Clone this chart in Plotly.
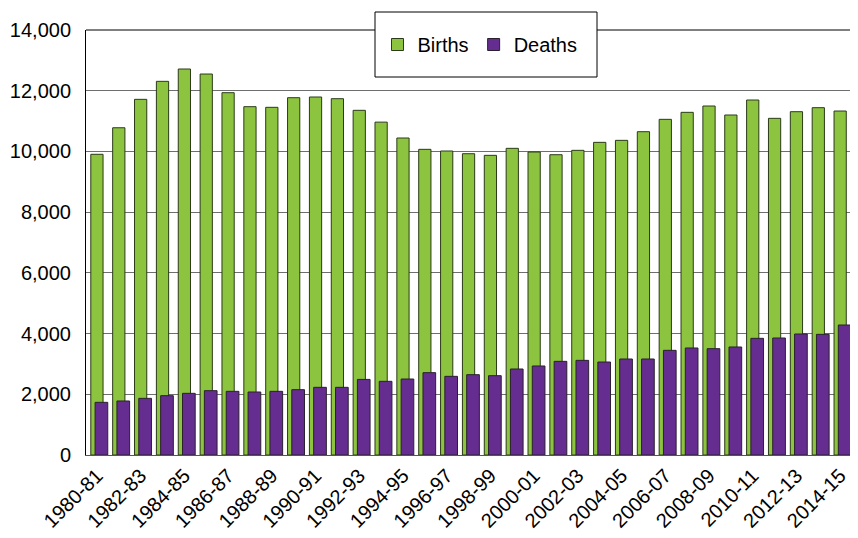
import plotly.graph_objects as go

years = [f"{y}-{str(y + 1)[-2:]}" for y in range(1980, 2015)]

births = [9905, 10780, 11716, 12309, 12715, 12550, 11935, 11474, 11453, 11770,
          11793, 11737, 11354, 10965, 10442, 10069, 10014, 9925, 9871, 10102,
          9981, 9892, 10036, 10299, 10365, 10650, 11057, 11288, 11496, 11200,
          11694, 11090, 11309, 11441, 11331]

deaths = [1735, 1779, 1866, 1954, 2031, 2119, 2097, 2075, 2097, 2152,
          2229, 2229, 2490, 2427, 2503, 2712, 2591, 2646, 2613, 2833,
          2932, 3085, 3118, 3063, 3162, 3162, 3448, 3525, 3503, 3558,
          3843, 3854, 3986, 3975, 4282]

tick_labels = years[::2]

GREEN = "#8cc43f"
PURPLE = "#662d91"
FONT = "Liberation Sans, Arial, sans-serif"

fig = go.Figure()
fig.add_trace(go.Bar(
    name="Births", x=years, y=births,
    marker=dict(color=GREEN, line=dict(color="#2b3a18", width=1)),
    width=0.56, offset=-0.28,
))
fig.add_trace(go.Bar(
    name="Deaths", x=years, y=deaths,
    marker=dict(color=PURPLE, line=dict(color="#2a2030", width=1)),
    width=0.58, offset=-0.085,
))

# page body has an 8px margin; the visible area ends at screen x=850
OFF = 8
W, H = 842, 530
L, R, T, B = 86 - OFF, 0, 30 - OFF, H - (455 - OFF)
pw = W - L - R
ph = H - T - B

def px_x(x):  # screen x -> paper
    return (x - OFF - L) / pw

def px_y(y):  # screen y -> paper
    return (H - B - (y - OFF)) / ph

fig.update_layout(
    width=W, height=H,
    margin=dict(l=L, r=R, t=T, b=B, autoexpand=False),
    barmode="overlay",
    plot_bgcolor="white",
    paper_bgcolor="white",
    font=dict(family=FONT, size=20, color="black"),
    showlegend=True,
    legend=dict(
        orientation="h",
        x=px_x(480), y=px_y(44.5),
        xanchor="center", yanchor="middle",
        bgcolor="rgba(0,0,0,0)",
        borderwidth=0,
        font=dict(family=FONT, size=20, color="black"),
        itemwidth=30,
        traceorder="normal",
    ),
    xaxis=dict(
        type="category",
        range=[-0.5, 34.45],
        tickmode="array",
        tickvals=tick_labels,
        ticktext=tick_labels,
        tickangle=-45,
        showgrid=False,
        showline=True, linecolor="#555555", linewidth=1,
        ticks="",
        automargin=False,
        tickfont=dict(family=FONT, size=20, color="black"),
    ),
    yaxis=dict(
        range=[0, 14000],
        dtick=2000,
        tickformat=",",
        showgrid=True, gridcolor="#6e6e6e", gridwidth=1,
        showline=True, linecolor="black", linewidth=1,
        ticks="",
        ticklabelstandoff=10,
        zeroline=False,
        automargin=False,
        tickfont=dict(family=FONT, size=20, color="black"),
    ),
    shapes=[
        dict(type="line", xref="paper", yref="paper", x0=0, x1=1, y0=1, y1=1,
             line=dict(color="black", width=1), layer="above"),
        dict(type="rect", xref="paper", yref="paper",
             x0=px_x(375), x1=px_x(597), y0=px_y(77), y1=px_y(12),
             fillcolor="white", line=dict(color="black", width=1), layer="above"),
    ],
)

fig.write_html("out.html", default_width=f"{W}px", default_height=f"{H}px")
